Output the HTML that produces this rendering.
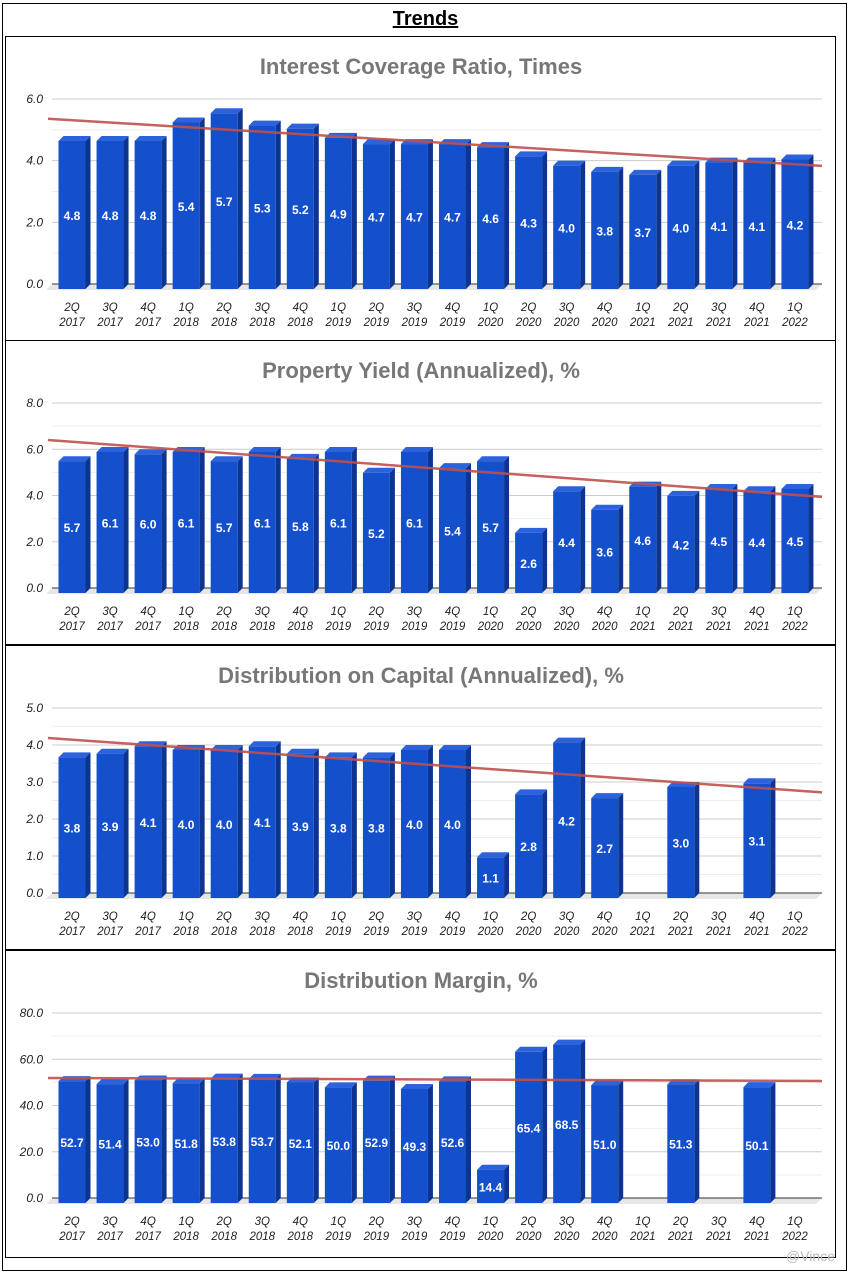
<!DOCTYPE html>
<html><head><meta charset="utf-8">
<style>
html,body{margin:0;padding:0;background:#fff;}
body{width:851px;height:1276px;position:relative;overflow:hidden;font-family:"Liberation Sans",Arial,sans-serif;}
#frame{position:absolute;left:2px;top:3px;width:845px;height:1268px;border:1px solid #000;box-sizing:border-box;}
#title{position:absolute;left:0;width:851px;top:8px;text-align:center;font-weight:bold;font-size:20px;text-decoration:underline;}
svg{position:absolute;left:0;top:0;}
</style></head>
<body>
<div id="frame"></div>
<div id="title">Trends</div>
<svg id="chart" width="851" height="1276"></svg>
<script>
const quarters = ["2Q","3Q","4Q","1Q","2Q","3Q","4Q","1Q","2Q","3Q","4Q","1Q","2Q","3Q","4Q","1Q","2Q","3Q","4Q","1Q"];
const years = ["2017","2017","2017","2018","2018","2018","2018","2019","2019","2019","2019","2020","2020","2020","2020","2021","2021","2021","2021","2022"];
const icrValues = [4.8,4.8,4.8,5.4,5.7,5.3,5.2,4.9,4.7,4.7,4.7,4.6,4.3,4.0,3.8,3.7,4.0,4.1,4.1,4.2];
const yieldValues = [5.7,6.1,6.0,6.1,5.7,6.1,5.8,6.1,5.2,6.1,5.4,5.7,2.6,4.4,3.6,4.6,4.2,4.5,4.4,4.5];
const docValues = [3.8,3.9,4.1,4.0,4.0,4.1,3.9,3.8,3.8,4.0,4.0,1.1,2.8,4.2,2.7,null,3.0,null,3.1,null];
const marginValues = [52.7,51.4,53.0,51.8,53.8,53.7,52.1,50.0,52.9,49.3,52.6,14.4,65.4,68.5,51.0,null,51.3,null,50.1,null];
const icrTicks = [0,2,4,6];
const yieldTicks = [0,2,4,6,8];
const docTicks = [0,1,2,3,4,5];
const marginTicks = [0,20,40,60,80];
const icrTrend = [5.36,3.83];
const yieldTrend = [6.4,3.94];
const docTrend = [4.19,2.72];
const marginTrend = [51.9,50.6];

const panels = [
 {name:"interest-coverage",title:"Interest Coverage Ratio, Times",values:icrValues,ticks:icrTicks,trend:icrTrend,top:36},
 {name:"property-yield",title:"Property Yield (Annualized), %",values:yieldValues,ticks:yieldTicks,trend:yieldTrend,top:340},
 {name:"distribution-on-capital",title:"Distribution on Capital (Annualized), %",values:docValues,ticks:docTicks,trend:docTrend,top:645},
 {name:"distribution-margin",title:"Distribution Margin, %",values:marginValues,ticks:marginTicks,trend:marginTrend,top:950}
];
const NS="http://www.w3.org/2000/svg";
const svg=document.getElementById('chart');
function mk(tag,attrs,parent,text){const e=document.createElementNS(NS,tag);for(const k in attrs)e.setAttribute(k,attrs[k]);if(text!==undefined)e.textContent=text;(parent||svg).appendChild(e);return e;}

panels.forEach((p,pi)=>{
 const g=mk('g',{});
 
 
 const h = pi===3?308:305;
 const box=mk('rect',{x:5.5,y:p.top+0.5,width:830,height:h-1,fill:'none',stroke:'#000','stroke-width':1},g);
 
 
 const t=mk('text',{x:421,y:p.top+38,'text-anchor':'middle','font-size':22,'font-weight':'bold',fill:'#777'},g,p.title);
 
 
 const y0=p.top+248, yTop=p.top+63;
 const maxT=p.ticks[p.ticks.length-1];
 const ys=v=>y0-(v/maxT)*(y0-yTop);
 const xc=i=>72+i*38.05;
 const x0=52,x1=822;
 // minor gridlines
 for(let k=0;k<p.ticks.length-1;k++){
  const mv=(p.ticks[k]+p.ticks[k+1])/2;
  mk('line',{x1:x0,x2:x1,y1:ys(mv),y2:ys(mv),stroke:'#eee','stroke-width':1},g);
 }
 p.ticks.forEach(tv=>{
  if(tv>0){const gl=mk('line',{x1:x0,x2:x1,y1:ys(tv),y2:ys(tv),stroke:'#ccc','stroke-width':1},g);
   }
  const tl=mk('text',{x:43,y:ys(tv)+4,'text-anchor':'end','font-size':12,'font-style':'italic',fill:'#222'},g,tv.toFixed(1));
  
  
 });
 // floor
 mk('polygon',{points:`${x0},${y0} ${x1},${y0} ${x1-6},${y0+6} ${x0-6},${y0+6}`,fill:'#e6e6e6'},g);
 mk('line',{x1:x0,x2:x1,y1:y0,y2:y0,stroke:'#333','stroke-width':1},g);
 // bars
 p.values.forEach((v,i)=>{
  const cx=xc(i);
  if(v!==null){
   const fx=cx-13.5,fw=27,d=5;
   const ft=ys(v)+5,fb=y0+5;
   const bg=mk('g',{},g);
   
   
   mk('polygon',{points:`${fx+fw},${ft} ${fx+fw+d},${ft-d} ${fx+fw+d},${fb-d} ${fx+fw},${fb}`,fill:'#0d3590'},bg);
   mk('polygon',{points:`${fx},${ft} ${fx+d},${ft-d} ${fx+fw+d},${ft-d} ${fx+fw},${ft}`,fill:'#2c63dc'},bg);
   mk('rect',{x:fx,y:ft,width:fw,height:fb-ft,fill:'#1550cc'},bg);
   const vl=mk('text',{x:cx,y:(ft+fb)/2+5,'text-anchor':'middle','font-size':12,'font-weight':'bold',fill:'#fff'},bg,v.toFixed(1));
   
   
  }
  const xl=mk('text',{x:cx,y:y0+27,'text-anchor':'middle','font-size':11.5,'font-style':'italic',fill:'#222'},g);
  
  
  mk('tspan',{x:cx},xl,quarters[i]);
  mk('tspan',{x:cx,dy:15},xl,years[i]);
 });
 const tr=mk('line',{x1:48,x2:822,y1:ys(p.trend[0]),y2:ys(p.trend[1]),stroke:'#c0504d','stroke-width':2.5,'stroke-opacity':0.9},g);
 
 
});
const wm=mk('text',{x:835,y:1261,'text-anchor':'end','font-size':14,fill:'#bbb'},svg,'@Vince');


</script>
</body></html>
